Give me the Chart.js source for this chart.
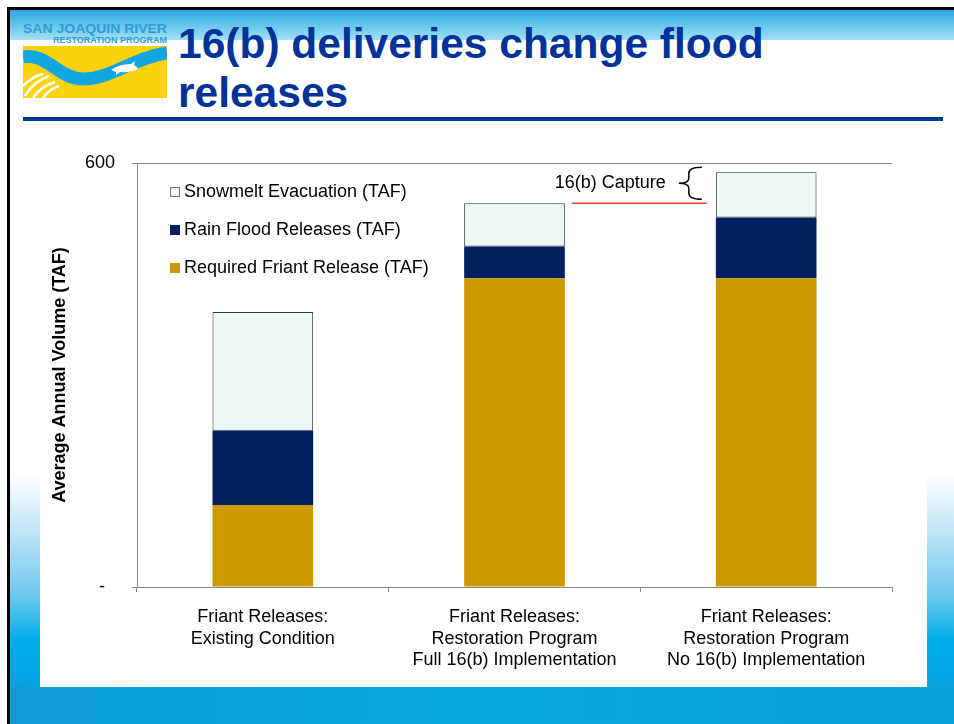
<!DOCTYPE html>
<html lang="en">
<head>
<meta charset="UTF-8">
<title>16(b) deliveries change flood releases</title>
<script src="https://cdn.jsdelivr.net/npm/chart.js"></script>
<style>
  body {
    margin: 0;
    width: 954px;
    height: 724px;
    position: relative;
    overflow: hidden;
    background: #fff;
    font-family: 'Liberation Sans', Arial, sans-serif;
  }
  .frame-top { position: absolute; left: 7px; top: 7px; right: 0; height: 3px; background: #000; }
  .frame-left { position: absolute; left: 7px; top: 7px; width: 3px; bottom: 0; background: #000; }
  .band { position: absolute; left: 10px; right: 0; top: 10px; height: 30px; background: linear-gradient(#2aa8e0, #a3e0f6); }
  .side { position: absolute; top: 475px; bottom: 0; background: linear-gradient(#fff 0%, #a8dcf4 30%, #66c6ee 50%, #00aeea 66%, #0a9ad8 100%); }
  .side.left { left: 10px; width: 30px; }
  .side.right { left: 927px; right: 0; }
  .bottom { position: absolute; left: 10px; right: 0; top: 687px; bottom: 0; background: linear-gradient(90deg, #0d9bd7, #07a8e2 50%, #0a9ed9); }
  h1 {
    position: absolute;
    left: 178px;
    top: 19px;
    margin: 0;
    font: bold 42.5px/49px 'Liberation Sans', Arial, sans-serif;
    color: #003399;
  }
  .rule { position: absolute; left: 23px; top: 117px; width: 920px; height: 4px; background: #003893; }
  .logo { position: absolute; left: 23px; top: 22px; }
  .chart-box { position: absolute; left: 40px; top: 143px; width: 887px; height: 544px; background: #fff; }
</style>
</head>
<body>
  <div class="frame-top"></div>
  <div class="frame-left"></div>
  <div class="band"></div>
  <div class="side left"></div>
  <div class="side right"></div>
  <div class="bottom"></div>

  <svg class="logo" width="144" height="76" viewBox="0 0 144 76">
    <text x="0" y="11" font-family="Liberation Sans Narrow, Liberation Sans, Arial" font-weight="bold" font-size="13" fill="#2b9ed8" textLength="144" lengthAdjust="spacingAndGlyphs">SAN JOAQUIN RIVER</text>
    <text x="30" y="21" font-family="Liberation Sans Narrow, Liberation Sans, Arial" font-weight="bold" font-size="8.5" fill="#2b9ed8" textLength="114" lengthAdjust="spacingAndGlyphs">RESTORATION PROGRAM</text>
    <rect x="0" y="24" width="144" height="52" fill="#fdd20e"/>
    <path d="M0 35 C 25 30, 35 58, 62 57 S 110 36, 144 31" stroke="#12a6e0" stroke-width="13" fill="none"/>
    <path d="M88 48 q 8 -6 20 -6 l 4 -3 l -1 4 q 3 1 4 4 q -8 4 -18 3 l -4 3 l 0 -3 z" fill="#fff"/>
    <path d="M2 74 q 8 -14 24 -20 M10 76 q 8 -12 22 -16 M20 76 q 6 -9 16 -12 M0 64 q 10 -10 20 -12" stroke="#fff" stroke-width="2.5" fill="none"/>
  </svg>

  <h1>16(b) deliveries change flood<br>releases</h1>
  <div class="rule"></div>

  <div class="chart-box">
    <canvas id="chart" width="887" height="544"></canvas>
  </div>

<script>
  const categories = [
    ['Friant Releases:', 'Existing Condition'],
    ['Friant Releases:', 'Restoration Program', 'Full 16(b) Implementation'],
    ['Friant Releases:', 'Restoration Program', 'No 16(b) Implementation']
  ];
  const requiredFriant = [116, 437, 437];
  const rainFlood = [105, 45, 86];
  const snowmelt = [168, 61, 64];
  const yTicks = [0, 600];

  Chart.defaults.font.family = "'Liberation Sans', Arial, sans-serif";

  // legend drawn inside the plot, top-left, in reverse stack order
  const insideLegend = {
    id: 'insideLegend',
    afterDraw(chart) {
      const ctx = chart.ctx;
      const area = chart.chartArea;
      const sets = chart.data.datasets.slice().reverse();
      ctx.save();
      ctx.font = "18px 'Liberation Sans', Arial, sans-serif";
      ctx.textBaseline = 'middle';
      sets.forEach((ds, i) => {
        const x = area.left + 33;
        const y = area.top + 29 + i * 38;
        ctx.fillStyle = ds.backgroundColor;
        ctx.fillRect(x, y - 5, 10, 10);
        if (ds.borderWidth) {
          ctx.strokeStyle = '#777';
          ctx.lineWidth = 1;
          ctx.strokeRect(x + 0.5, y - 4.5, 9, 9);
        }
        ctx.fillStyle = '#000';
        ctx.fillText(ds.label, x + 14, y);
      });
      ctx.restore();
    }
  };

  // "16(b) Capture" brace and red reference line
  const capture = {
    id: 'capture',
    afterDatasetsDraw(chart) {
      const ctx = chart.ctx;
      const top = chart.getDatasetMeta(2).data;
      const b2 = top[1], b3 = top[2];
      const lineY = b2.y;
      const x0 = b2.x + b2.width / 2 + 7;
      const x1 = b3.x - b3.width / 2 - 9;
      ctx.save();
      ctx.strokeStyle = '#ee3b3b';
      ctx.lineWidth = 1.5;
      ctx.beginPath();
      ctx.moveTo(x0, lineY);
      ctx.lineTo(x1, lineY);
      ctx.stroke();

      const xe = b3.x - b3.width / 2 - 14;
      const xv = xe - 13;
      const xt = xv - 10;
      const y0 = b3.y - 5;
      const y1 = b2.y - 4;
      const ym = (y0 + y1) / 2;
      ctx.strokeStyle = '#000';
      ctx.lineWidth = 1.5;
      ctx.beginPath();
      ctx.moveTo(xe, y0);
      ctx.quadraticCurveTo(xv, y0, xv, y0 + 6);
      ctx.lineTo(xv, ym - 5);
      ctx.quadraticCurveTo(xv, ym, xt, ym);
      ctx.quadraticCurveTo(xv, ym, xv, ym + 5);
      ctx.lineTo(xv, y1 - 6);
      ctx.quadraticCurveTo(xv, y1, xe, y1);
      ctx.stroke();

      ctx.fillStyle = '#000';
      ctx.font = "18px 'Liberation Sans', Arial, sans-serif";
      ctx.textAlign = 'right';
      ctx.textBaseline = 'middle';
      ctx.fillText('16(b) Capture', xt - 13, ym);
      ctx.restore();
    }
  };

  new Chart(document.getElementById('chart'), {
    type: 'bar',
    data: {
      labels: categories,
      datasets: [
        {
          label: 'Required Friant Release (TAF)',
          data: requiredFriant,
          backgroundColor: '#cc9900'
        },
        {
          label: 'Rain Flood Releases (TAF)',
          data: rainFlood,
          backgroundColor: '#002060'
        },
        {
          label: 'Snowmelt Evacuation (TAF)',
          data: snowmelt,
          backgroundColor: '#eef8f6',
          borderColor: '#333',
          borderWidth: 1,
          borderSkipped: false
        }
      ]
    },
    options: {
      responsive: false,
      devicePixelRatio: 1,
      animation: false,
      categoryPercentage: 1,
      barPercentage: 0.4,
      layout: { padding: { top: 20, right: 35, bottom: 0, left: 0 } },
      plugins: {
        legend: { display: false },
        tooltip: { enabled: false }
      },
      scales: {
        x: {
          stacked: true,
          grid: { offset: true, drawOnChartArea: false, tickLength: 5, color: '#868686' },
          border: { color: '#868686' },
          ticks: { font: { size: 18, lineHeight: 1.17 }, color: '#000', padding: 15, maxRotation: 0, autoSkip: false },
          afterFit: s => { s.height = 100; }
        },
        y: {
          stacked: true,
          min: 0,
          max: 600,
          afterBuildTicks: s => { s.ticks = yTicks.map(v => ({ value: v })); },
          afterFit: s => { s.width = 97; s.paddingTop = 0; s.paddingBottom = 0; },
          ticks: {
            callback: v => (v === 0 ? '-  ' : v),
            font: { size: 18 },
            color: '#000',
            padding: 17
          },
          grid: { color: '#868686', tickLength: 5 },
          border: { color: '#868686' },
          title: {
            display: true,
            text: 'Average Annual Volume (TAF)',
            font: { size: 18, weight: 'bold' },
            color: '#000',
            padding: { top: 9 }
          }
        }
      }
    },
    plugins: [insideLegend, capture]
  });
</script>
</body>
</html>
